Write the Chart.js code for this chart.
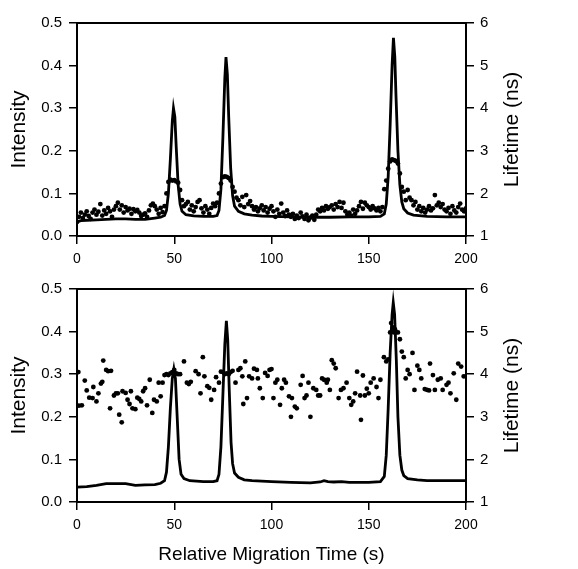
<!DOCTYPE html>
<html>
<head>
<meta charset="utf-8">
<script src="https://cdn.jsdelivr.net/npm/chart.js@4.4.1/dist/chart.umd.min.js"></script>
<style>
  body { margin: 0; background: #fff; }
  #wrap { position: relative; width: 578px; height: 569px; }
  #topChart { position: absolute; left: 0; top: 0; }
  #bottomChart { position: absolute; left: 0; top: 270px; }
</style>
</head>
<body>
<div id="wrap">
  <canvas id="topChart" width="578" height="270"></canvas>
  <canvas id="bottomChart" width="578" height="299"></canvas>
</div>
<script>
// top panel: intensity trace
const topLineTime = [0, 2, 5, 10, 15, 20, 25, 30, 35, 40, 43, 45, 46, 47, 48, 49, 49.6, 50.3, 51, 52, 53, 54, 56, 60, 65, 70, 72, 73, 74, 75, 76, 76.6, 77.3, 78, 79, 80, 81, 83, 86, 90, 95, 100, 110, 120, 130, 140, 150, 156, 158, 159, 160, 161, 162, 162.7, 163.4, 164, 165, 166, 167, 168, 170, 173, 180, 190, 200];
const topLineIntensity = [0.033, 0.036, 0.037, 0.038, 0.039, 0.040, 0.040, 0.039, 0.039, 0.042, 0.044, 0.048, 0.060, 0.100, 0.180, 0.270, 0.300, 0.280, 0.210, 0.120, 0.075, 0.058, 0.050, 0.047, 0.046, 0.046, 0.048, 0.060, 0.110, 0.230, 0.370, 0.420, 0.380, 0.280, 0.160, 0.095, 0.070, 0.058, 0.052, 0.049, 0.047, 0.046, 0.045, 0.044, 0.044, 0.045, 0.045, 0.046, 0.052, 0.075, 0.140, 0.260, 0.400, 0.465, 0.420, 0.330, 0.200, 0.120, 0.080, 0.064, 0.054, 0.049, 0.046, 0.045, 0.045];

// top panel: lifetime points, one per second from 0 to 200 s
const topLifeTime = [];
for (let t = 0; t <= 200; t++) topLifeTime.push(t);
const topLifetime = [
  1.33, 1.45, 1.55, 1.42, 1.50, 1.58, 1.47, 1.40, 1.55, 1.62,
  1.50, 1.57, 1.75, 1.48, 1.60, 1.52, 1.66, 1.58, 1.45, 1.62,
  1.70, 1.78, 1.62, 1.72, 1.55, 1.68, 1.60, 1.64, 1.52, 1.63,
  1.58, 1.61, 1.55, 1.47, 1.50, 1.53, 1.45, 1.60, 1.72, 1.76,
  1.70, 1.62, 1.52, 1.66, 1.56, 1.70, 2.00, 2.27, 2.32, 2.30,
  2.31, 2.28, 2.25, 2.08, 1.84, 1.70, 1.75, 1.80, 1.62, 1.72,
  1.58, 1.68, 1.80, 1.84, 1.65, 1.55, 1.70, 1.62, 1.52, 1.66,
  1.76, 1.70, 1.78, 2.00, 2.23, 2.38, 2.40, 2.39, 2.36, 2.30,
  2.15, 2.04, 1.90, 1.84, 1.72, 1.92, 1.68, 1.96, 1.75, 1.82,
  1.70, 1.62, 1.68, 1.58, 1.65, 1.72, 1.60, 1.68, 1.55, 1.64,
  1.70, 1.58, 1.45, 1.62, 1.52, 1.76, 1.55, 1.47, 1.60, 1.50,
  1.45, 1.52, 1.40, 1.48, 1.42, 1.55, 1.46, 1.40, 1.50, 1.37,
  1.43, 1.48, 1.38, 1.50, 1.62, 1.58, 1.66, 1.60, 1.70, 1.64,
  1.68, 1.72, 1.62, 1.75, 1.68, 1.80, 1.66, 1.78, 1.58, 1.50,
  1.55, 1.48, 1.62, 1.52, 1.60, 1.70, 1.80, 1.64, 1.78, 1.72,
  1.68, 1.62, 1.70, 1.65, 1.60, 1.66, 1.58, 1.68, 2.10, 2.30,
  2.58, 2.75, 2.80, 2.78, 2.76, 2.70, 2.47, 2.15, 2.04, 1.84,
  2.08, 1.90, 1.84, 1.72, 1.80, 1.62, 1.70, 1.58, 1.66, 1.55,
  1.62, 1.70, 1.60, 1.65, 1.96, 1.72, 1.78, 1.68, 1.75, 1.62,
  1.58, 1.66, 1.52, 1.70, 1.60, 1.55, 1.68, 1.76, 1.62, 1.58,
  1.65
];

// bottom panel: intensity trace
const bottomLineTime = [0, 5, 10, 15, 20, 25, 30, 35, 40, 43, 45, 46, 47, 48, 49, 49.8, 50.6, 51.5, 52.5, 53.5, 55, 58, 65, 70, 72, 73, 74, 75, 76, 76.8, 77.5, 78.3, 79.2, 80, 81, 83, 86, 90, 95, 100, 110, 120, 125, 127, 129, 132, 136, 140, 150, 156, 158, 159, 160, 161, 162, 162.6, 163.3, 164.2, 165, 166, 167, 168, 170, 175, 180, 190, 200];
const bottomLineIntensity = [0.035, 0.036, 0.039, 0.043, 0.043, 0.043, 0.039, 0.040, 0.041, 0.044, 0.050, 0.070, 0.130, 0.220, 0.290, 0.312, 0.290, 0.200, 0.100, 0.065, 0.055, 0.050, 0.048, 0.048, 0.050, 0.065, 0.130, 0.250, 0.370, 0.425, 0.380, 0.260, 0.140, 0.090, 0.068, 0.058, 0.052, 0.050, 0.049, 0.048, 0.046, 0.045, 0.047, 0.050, 0.048, 0.047, 0.048, 0.046, 0.046, 0.048, 0.060, 0.110, 0.220, 0.350, 0.440, 0.468, 0.440, 0.330, 0.200, 0.110, 0.075, 0.062, 0.055, 0.052, 0.050, 0.050, 0.050];

// bottom panel: lifetime points
const bottomLifeTime = [0.7, 1, 2.5, 4, 5, 6.3, 8, 8.4, 10, 11, 12.3, 13, 13.5, 15, 16, 17, 17.5, 19, 20, 21, 21.7, 23, 23.4, 25, 26, 27, 27.7, 28.5, 30, 31, 32, 33, 34, 35, 36, 37.4, 38.7, 39.6, 41, 42, 43, 44, 45, 46, 47, 48, 49, 50, 51, 52, 53, 55, 56.5, 57.5, 58.5, 61, 62.5, 63.5, 64.7, 65.5, 67, 68, 69, 70.5, 71.5, 73, 74, 75, 76, 77, 78, 79, 80, 81.5, 83, 84, 85, 85.5, 86.5, 87.4, 88.5, 90, 91, 92.5, 93, 94, 95.5, 96.7, 98, 99, 100, 101, 102, 103, 104.4, 105.3, 106.5, 107.4, 109, 110, 110.5, 112, 113, 115, 116, 117, 118, 119, 120, 121.5, 123, 124, 125, 126, 127, 128.4, 129, 130, 131, 132, 133, 134.5, 135.7, 137, 138.6, 140, 141, 142, 143, 144, 145.6, 146, 147, 148, 149, 150, 151, 152.5, 154, 155, 156, 157.8, 159, 160, 161, 161.5, 162, 162.5, 163, 163.5, 164, 165, 166, 167, 168, 169, 170, 171, 172.5, 173.5, 175, 176, 177, 178.8, 180, 181, 181.5, 183, 184, 185.5, 187, 188, 190, 191, 192, 193.7, 195, 196, 197.5, 198.8, 200];
const bottomLifetime = [4.05, 3.26, 3.27, 3.85, 3.62, 3.45, 3.44, 3.70, 3.36, 3.55, 3.78, 3.82, 4.32, 4.10, 4.07, 3.20, 4.08, 3.50, 3.55, 3.55, 3.05, 2.87, 3.60, 3.56, 3.40, 3.30, 3.60, 3.20, 3.18, 3.45, 3.42, 3.36, 3.60, 3.67, 3.27, 3.87, 3.09, 3.40, 3.36, 3.80, 3.48, 3.80, 3.98, 4.00, 3.98, 4.02, 4.05, 4.10, 4.02, 4.00, 4.00, 4.30, 3.80, 3.77, 3.82, 4.07, 4.00, 3.55, 4.40, 3.95, 3.72, 3.68, 3.40, 3.63, 3.93, 3.80, 4.06, 4.05, 4.00, 4.02, 4.00, 4.05, 4.08, 3.80, 4.10, 4.14, 3.95, 3.30, 4.30, 3.44, 3.95, 3.90, 4.13, 4.10, 3.90, 3.67, 3.44, 4.03, 3.96, 4.10, 4.12, 3.44, 3.80, 3.87, 3.28, 3.67, 3.87, 3.80, 3.48, 3.00, 3.44, 3.24, 3.20, 3.75, 3.96, 3.44, 3.50, 3.80, 3.00, 3.67, 3.63, 3.50, 3.50, 3.90, 3.87, 3.80, 3.87, 3.63, 4.33, 4.25, 4.14, 3.44, 3.63, 3.67, 3.80, 3.44, 3.28, 3.36, 3.55, 4.06, 3.50, 2.93, 3.97, 3.50, 3.66, 3.55, 3.80, 3.90, 3.70, 3.44, 3.87, 4.40, 4.30, 4.35, 4.98, 5.20, 5.00, 5.10, 4.98, 5.05, 4.98, 4.98, 4.82, 4.53, 4.40, 3.90, 4.10, 4.00, 4.50, 3.63, 4.20, 4.10, 3.90, 3.65, 3.63, 3.62, 4.25, 3.98, 3.63, 3.87, 3.90, 3.63, 3.75, 3.80, 3.55, 4.02, 3.40, 4.25, 4.18, 3.95, 3.95];

const xTicks = [0, 50, 100, 150, 200];

Chart.defaults.font.family = '"Liberation Sans", Arial, sans-serif';
Chart.defaults.color = '#000';

function pairs(xs, ys) {
    return xs.map((x, i) => ({ x: x, y: ys[i] }));
}

// box round the plot and the right-hand title, which reads bottom to top
const frame = {
    id: 'frame',
    afterDraw(chart) {
        const ctx = chart.ctx;
        const a = chart.chartArea;
        ctx.save();
        ctx.strokeStyle = '#000';
        ctx.lineWidth = 2;
        ctx.strokeRect(a.left, a.top, a.right - a.left, a.bottom - a.top);
        ctx.translate(512, (a.top + a.bottom) / 2);
        ctx.rotate(-Math.PI / 2);
        ctx.font = '21px "Liberation Sans", Arial, sans-serif';
        ctx.textAlign = 'center';
        ctx.textBaseline = 'middle';
        ctx.fillStyle = '#000';
        ctx.fillText('Lifetime (ns)', 0, 0);
        ctx.restore();
    }
};

function createChart(id, lineX, lineY, lifeX, lifeY, padTop, xHeight, showXTitle) {
    const grid = { drawOnChartArea: false, drawTicks: true, tickLength: 8, color: '#000', lineWidth: 1.5 };
    return new Chart(document.getElementById(id).getContext('2d'), {
        type: 'scatter',
        data: {
            datasets: [{
                label: 'Intensity',
                data: pairs(lineX, lineY),
                yAxisID: 'yI',
                showLine: true,
                borderColor: '#000',
                borderWidth: 2.8,
                pointRadius: 0,
                tension: 0
            }, {
                label: 'Lifetime',
                data: pairs(lifeX, lifeY),
                yAxisID: 'yL',
                backgroundColor: '#000',
                borderWidth: 0,
                pointRadius: 2.4
            }]
        },
        options: {
            responsive: false,
            animation: false,
            layout: { padding: { top: padTop, left: 0, right: 0, bottom: 0 } },
            plugins: { legend: { display: false }, tooltip: { enabled: false } },
            scales: {
                x: {
                    type: 'linear', min: 0, max: 200,
                    afterBuildTicks: s => { s.ticks = xTicks.map(v => ({ value: v })); },
                    ticks: { font: { size: 14 }, padding: 7, maxRotation: 0 },
                    grid: grid,
                    border: { color: '#000', width: 2 },
                    title: { display: showXTitle, text: 'Relative Migration Time (s)', font: { size: 19 }, padding: { top: 0, bottom: 3 } },
                    afterFit: s => { s.height = xHeight; }
                },
                yI: {
                    position: 'left', min: 0, max: 0.5,
                    ticks: { stepSize: 0.1, font: { size: 15 }, padding: 7, callback: v => v.toFixed(1) },
                    grid: grid,
                    border: { color: '#000', width: 2 },
                    title: { display: true, text: 'Intensity', font: { size: 21 }, padding: { top: 7 } },
                    afterFit: s => { s.width = 77; }
                },
                yL: {
                    position: 'right', min: 1, max: 6,
                    ticks: { stepSize: 1, font: { size: 15 }, padding: 6 },
                    grid: grid,
                    border: { color: '#000', width: 2 },
                    afterFit: s => { s.width = 112; }
                }
            }
        },
        plugins: [frame]
    });
}

createChart('topChart', topLineTime, topLineIntensity, topLifeTime, topLifetime, 23, 34, false);
createChart('bottomChart', bottomLineTime, bottomLineIntensity, bottomLifeTime, bottomLifetime, 19, 67, true);
</script>
</body>
</html>
